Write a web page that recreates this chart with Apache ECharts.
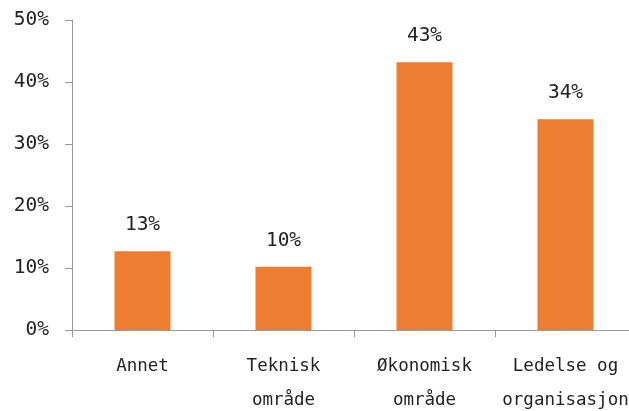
<!DOCTYPE html>
<html>
<head>
<meta charset="utf-8">
<script src="https://cdn.jsdelivr.net/npm/echarts@6/dist/echarts.min.js"></script>
<style>
  html, body { margin: 0; padding: 0; background: #fff; }
  #chart { width: 629px; height: 411px; }
</style>
</head>
<body>
<div id="chart"></div>
<script>
var categories = ['Annet', 'Teknisk\nområde', 'Økonomisk\nområde', 'Ledelse og\norganisasjon'];
var values = [12.7, 10.2, 43.2, 34.0];
var yTicks = [0, 10, 20, 30, 40, 50];

(function () {
    var myChart = echarts.init(document.getElementById('chart'));
    var font = 'DejaVu Sans Mono';
    var option = {
        animation: false,
        grid: {
            left: 72,
            right: -7,
            top: 20,
            bottom: 81,
            containLabel: false,
            outerBoundsMode: 'none'
        },
        xAxis: {
            type: 'category',
            data: categories,
            axisLine: { lineStyle: { color: '#999', width: 1 } },
            axisTick: { show: true, length: 7, alignWithLabel: false, lineStyle: { color: '#999' } },
            axisLabel: {
                color: '#222',
                fontFamily: font,
                fontSize: 17.5,
                lineHeight: 34,
                margin: 19,
                interval: 0
            }
        },
        yAxis: {
            type: 'value',
            min: yTicks[0],
            max: yTicks[yTicks.length - 1],
            interval: 10,
            axisLine: { show: true, lineStyle: { color: '#999', width: 1 } },
            axisTick: { show: true, length: 7, lineStyle: { color: '#999' } },
            splitLine: { show: false },
            axisLabel: {
                color: '#222',
                fontFamily: font,
                fontSize: 19.5,
                margin: 23,
                formatter: '{value}%'
            }
        },
        series: [
            {
                type: 'bar',
                data: values,
                barWidth: 56,
                itemStyle: { color: '#ED7D31' },
                label: {
                    show: true,
                    position: 'top',
                    distance: 16,
                    color: '#222',
                    fontFamily: font,
                    fontSize: 19.5,
                    formatter: function (p) { return Math.round(p.value) + '%'; }
                }
            }
        ]
    };
    myChart.setOption(option);
})();
</script>
</body>
</html>
